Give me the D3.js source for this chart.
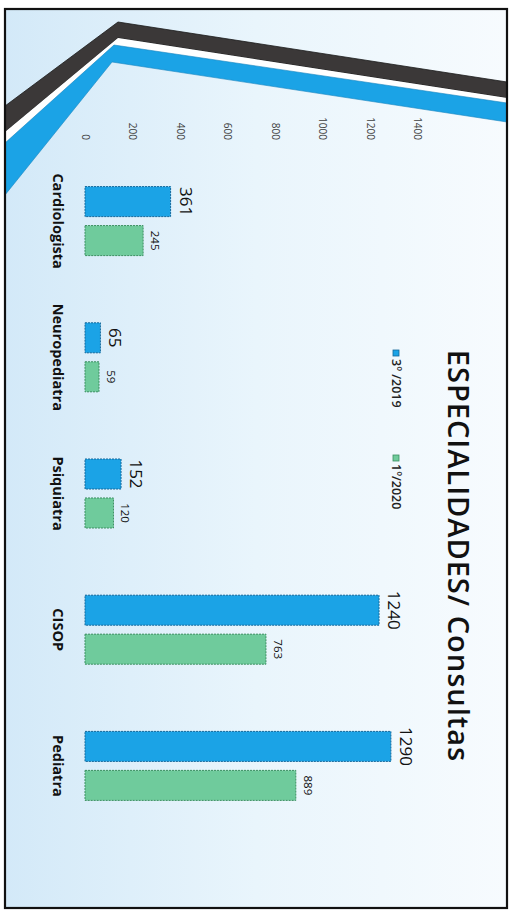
<!DOCTYPE html>
<html><head><meta charset="utf-8">
<script src="https://cdn.jsdelivr.net/npm/d3@7"></script>
<style>html,body{margin:0;padding:0;background:#fff;}svg{display:block;}</style>
</head><body>
<svg id="chart" width="519" height="913"></svg>
<script>
const categories = ["Cardiologista", "Neuropediatra", "Psiquiatra", "CISOP", "Pediatra"];
const seriesNames = ["3º /2019", "1º/2020"];
const values2019 = [361, 65, 152, 1240, 1290];
const values2020 = [245, 59, 120, 763, 889];
const tickValues = [0, 200, 400, 600, 800, 1000, 1200, 1400];
const title = "ESPECIALIDADES/ Consultas";
const colors = ["#1ba3e6", "#6fcb9c"];
const strokes = ["#16689a", "#3b8f60"];

const svg = d3.select("#chart");
const defs = svg.append("defs");
const grad = defs.append("linearGradient").attr("id","bg").attr("x1","0").attr("x2","1").attr("y1","0").attr("y2","0");
grad.append("stop").attr("offset","0").attr("stop-color","#d3e9f8");
grad.append("stop").attr("offset","0.5").attr("stop-color","#e9f5fc");
grad.append("stop").attr("offset","1").attr("stop-color","#f7fbfe");

// frame background
svg.append("rect").attr("x",5).attr("y",9).attr("width",502).attr("height",899)
  .attr("fill","url(#bg)");

// decorative bands (top-left)
svg.append("path").attr("d","M5,106 L118,22 L507,82 L507,98 L118,38 L5,132 Z")
  .attr("fill","#3b3838").attr("stroke","#1a1a1a").attr("stroke-width",0.8);
svg.append("path").attr("d","M5,132 L118,38 L507,98 L507,103 L114,45 L5,143 Z")
  .attr("fill","#ffffff");
svg.append("path").attr("d","M5,143 L114,45 L507,103 L507,122 L112,62 L5,195 Z")
  .attr("fill","#1ba3e6").attr("stroke","#1784c0").attr("stroke-width",0.6);

// frame border
svg.append("rect").attr("x",5).attr("y",9).attr("width",502).attr("height",899)
  .attr("fill","none").attr("stroke","#111").attr("stroke-width",2.2);

const x = d3.scaleLinear().domain([0,1400]).range([85,417]);
const y = d3.scaleBand().domain(categories).range([153,834]).padding(0);
const sub = d3.scaleBand().domain(seriesNames).range([-34.5,34.5]).paddingInner(0.23);

// tick labels
const axis = d3.axisTop(x).tickValues(tickValues).tickSize(0).tickFormat(d3.format("d"));
const ax = svg.append("g").attr("transform","translate(0,140)").call(axis);
ax.select(".domain").remove();
ax.selectAll(".tick text")
  .attr("transform","rotate(90)")
  .attr("x",0).attr("y",0).attr("dy","0.35em")
  .attr("text-anchor","end")
  .attr("font-family","'Open Sans', sans-serif").attr("font-size",10).attr("fill","#404040");

const series = [values2019, values2020];
series.forEach((vals, si) => {
  const g = svg.append("g");
  g.selectAll("rect").data(vals).join("rect")
    .attr("x", x(0))
    .attr("y", (d,i) => y(categories[i]) + y.bandwidth()/2 + sub(seriesNames[si]))
    .attr("width", d => x(d) - x(0))
    .attr("height", sub.bandwidth())
    .attr("fill", colors[si])
    .attr("stroke", strokes[si]).attr("stroke-width",1).attr("stroke-dasharray","2,1");
  g.selectAll("text").data(vals).join("text")
    .attr("transform", (d,i) => `translate(${x(d) + (si===0?9:8)},${y(categories[i]) + y.bandwidth()/2 + sub(seriesNames[si]) + sub.bandwidth()/2}) rotate(90)`)
    .attr("text-anchor","middle")
    .attr("font-family","'Open Sans', sans-serif")
    .attr("font-size", si===0 ? 17 : 11.5)
    .attr("fill","#111")
    .text(d => d);
});

// category labels
svg.append("g").selectAll("text").data(categories).join("text")
  .attr("transform", d => `translate(58,${y(d) + y.bandwidth()/2}) rotate(90)`)
  .attr("text-anchor","middle").attr("dy","0.35em")
  .attr("font-family","'Open Sans', sans-serif").attr("font-weight",700).attr("font-size",14.5)
  .attr("fill","#111")
  .text(d => d);

// title
svg.append("text")
  .attr("transform","translate(458,556) rotate(90)")
  .attr("text-anchor","middle").attr("dy","0.35em")
  .attr("font-family","'Open Sans', sans-serif").attr("font-weight",600).attr("font-size",29)
  .attr("letter-spacing","1px")
  .attr("fill","#111").text(title);

// legend
const legY = [350, 455];
const lg = svg.append("g");
seriesNames.forEach((s,i) => {
  lg.append("rect").attr("x",393).attr("y",legY[i]).attr("width",6).attr("height",6)
    .attr("fill",colors[i]).attr("stroke",strokes[i]).attr("stroke-width",0.8);
  lg.append("text")
    .attr("transform",`translate(396,${legY[i]+9}) rotate(90)`)
    .attr("text-anchor","start").attr("dy","0.35em")
    .attr("font-family","'Open Sans', sans-serif").attr("font-weight",600).attr("font-size",12.5)
    .attr("fill","#222").text(s);
});
</script>
</body></html>
